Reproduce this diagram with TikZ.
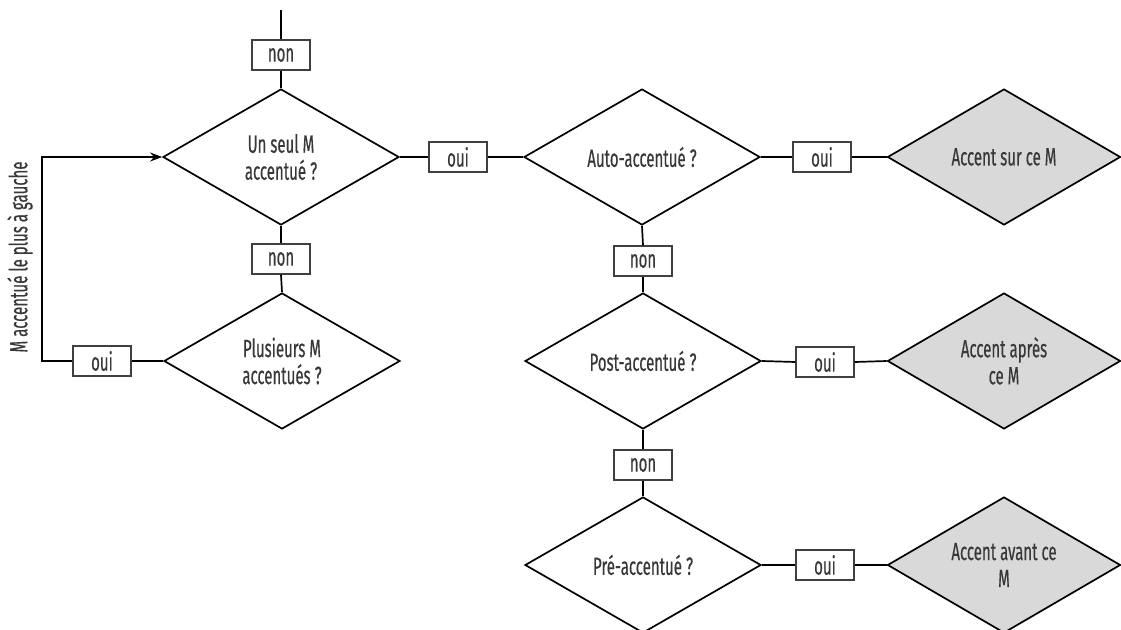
\documentclass[tikz,border=0pt]{standalone}
\usepackage{fontspec}
\setmainfont{Fira Sans}[FakeStretch=0.6,FakeBold=0.4]
\usetikzlibrary{shapes.geometric,arrows.meta}
\definecolor{txt}{HTML}{383838}
\definecolor{boxline}{HTML}{404040}
\definecolor{grayfill}{HTML}{D9D9D9}
\tikzset{
  question/.style={diamond,draw=black,line width=1.7pt,minimum width=236pt,minimum height=136pt,
    aspect=1.735,inner sep=0pt,align=center,font=\fontsize{25}{27}\selectfont,text=txt},
  result/.style={question,fill=grayfill,minimum width=233pt},
  answer/.style={rectangle,draw=boxline,line width=1.2pt,fill=white,minimum width=58pt,
    minimum height=30pt,inner sep=0pt,font=\fontsize{25}{27}\selectfont,text=txt},
  link/.style={draw=black,line width=1.7pt},
  sidelabel/.style={font=\fontsize{25}{27}\selectfont,text=txt,rotate=90,inner sep=1pt}
}
\begin{document}
\begin{tikzpicture}[x=1pt,y=-1pt]
\clip (0,0) rectangle (1121,629);
\fill[white] (0,0) rectangle (1121,629);
% nodes
\coordinate (start) at (281,10);
\node[answer] (n1) at (281,55) {non};
\node[question] (d1) at (281,157) {Un seul M\\accentué\,?};
\node[answer] (o1) at (458,157) {oui};
\node[question] (d2) at (642,157) {Auto-accentué\,?};
\node[answer] (o2) at (822,157) {oui};
\node[result] (g1) at (1004,157) {Accent sur ce M};
\node[answer] (n2) at (281,259) {non};
\node[question] (d3) at (282,361) {Plusieurs M\\accentués\,?};
\node[answer] (o3) at (102,361) {oui};
\coordinate (c1) at (42,361);
\coordinate (c2) at (42,157);
\node[sidelabel] (lab) at (20,257) {M accentué le plus à gauche};
\node[answer] (n3) at (643,261) {non};
\node[question] (d4) at (643,361) {Post-accentué\,?};
\node[answer] (o4) at (825,362) {oui};
\node[result] (g2) at (1004,361) {Accent après\\ce M};
\node[answer] (n4) at (643,465) {non};
\node[question] (d5) at (643,565) {Pré-accentué\,?};
\node[answer] (o5) at (825,565) {oui};
\node[result] (g3) at (1004,565) {Accent avant ce\\M};
% connectors
\path[link] (start) -- (n1.north);
\path[link] (n1.south) -- (d1.north);
\path[link] (d1.east) -- (o1.west);
\path[link] (o1.east) -- (d2.west);
\path[link] (d2.east) -- (o2.west);
\path[link] (o2.east) -- (g1.west);
\path[link] (d1.south) -- (n2.north);
\path[link] (n2.south) -- (d3.north);
\path[link] (d3.west) -- (o3.east);
\path[link,-{Stealth[length=12pt,width=9pt]}] (o3.west) -- (c1) -- (c2) -- (d1.west);
\path[link] (d2.south) -- (n3.north);
\path[link] (n3.south) -- (d4.north);
\path[link] (d4.east) -- (o4.west);
\path[link] (o4.east) -- (g2.west);
\path[link] (d4.south) -- (n4.north);
\path[link] (n4.south) -- (d5.north);
\path[link] (d5.east) -- (o5.west);
\path[link] (o5.east) -- (g3.west);
\end{tikzpicture}
\end{document}
